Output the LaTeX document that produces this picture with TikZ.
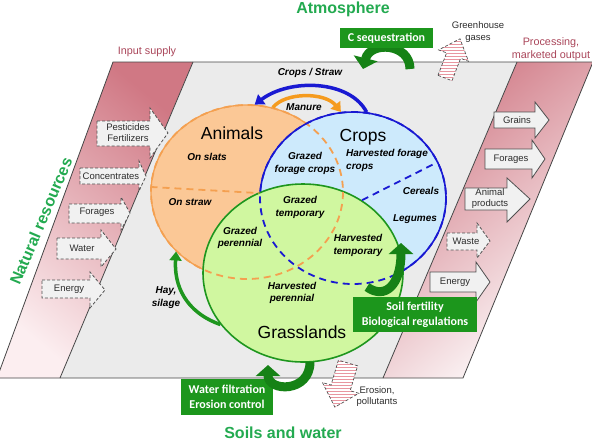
\documentclass[tikz,border=0pt]{standalone}
\usepackage{fontspec}
\setmainfont{Liberation Sans}
\newfontfamily\calib{Carlito}
\usetikzlibrary{arrows.meta,shapes.geometric}
\definecolor{bandDark}{RGB}{208,120,132}
\definecolor{bandLight}{RGB}{252,238,240}
\definecolor{bgGray}{RGB}{235,235,235}
\definecolor{outl}{RGB}{70,70,70}
\definecolor{arrFill}{RGB}{241,241,241}
\definecolor{arrEdge}{RGB}{80,80,80}
\definecolor{orangeFill}{RGB}{251,200,150}
\definecolor{orangeLine}{RGB}{244,160,80}
\definecolor{manureC}{RGB}{245,155,30}
\definecolor{blueFill}{RGB}{205,234,252}
\definecolor{blueLine}{RGB}{25,25,210}
\definecolor{greenFill}{RGB}{208,247,160}
\definecolor{greenLine}{RGB}{30,150,30}
\definecolor{boxGreen}{RGB}{28,150,28}
\definecolor{loopGreen}{RGB}{22,130,22}
\definecolor{titleGreen}{RGB}{35,170,80}
\definecolor{roseText}{RGB}{170,70,90}
\definecolor{hatch}{RGB}{232,150,160}
\definecolor{txtGray}{RGB}{45,45,45}
\begin{document}
\begin{tikzpicture}[x=1pt,y=-1pt,
  inarr/.style={draw=arrEdge,fill=arrFill,line width=0.8pt,dash pattern=on 3pt off 2pt},
  outarr/.style={draw=arrEdge,fill=arrFill,line width=0.8pt},
  smalll/.style={font=\fontsize{9.5}{11}\selectfont,text=txtGray,align=center,inner sep=0},
  lbl/.style={font=\fontsize{10}{12.5}\selectfont\bfseries\itshape,align=center,inner sep=0},
  bigl/.style={font=\fontsize{17.5}{20}\selectfont,inner sep=0},
  titl/.style={font=\fontsize{16}{18}\selectfont\bfseries,text=titleGreen,inner sep=0},
  rosel/.style={font=\fontsize{10.8}{13.5}\selectfont,text=roseText,align=center,inner sep=0},
  svc/.style={fill=boxGreen,text=white,font=\calib\bfseries\fontsize{12}{15}\selectfont,align=center,inner sep=0},
  loopa/.style={draw=loopGreen,line width=9pt,-{Triangle[width=24pt,length=11pt]}},
  flowa/.style={line width=3.5pt,-{Triangle[width=12pt,length=9pt]}},
  hatchedge/.style={draw=arrEdge,line width=0.7pt,dash pattern=on 3pt off 2pt},
  hatchline/.style={draw=hatch,line width=0.8pt}
]
\useasboundingbox (0,0) rectangle (592,440);
\fill[white] (0,0) rectangle (592,440);

% bands and background
\shade[top color=bandDark,bottom color=bandLight,shading angle=-40] (113,62) -- (193,62) -- (60,378) -- (-3,378) -- cycle;
\shade[top color=bandDark,bottom color=white,shading angle=40] (517,62) -- (593,62) -- (463,378) -- (383,378) -- cycle;
\fill[bgGray] (193,62) -- (517,62) -- (383,378) -- (60,378) -- cycle;
\draw[outl,line width=0.8pt] (113,62) -- (593,62) -- (463,378) -- (-3,378) -- cycle;
\draw[outl,line width=0.8pt] (193,62) -- (60,378);
\draw[outl,line width=0.8pt] (517,62) -- (383,378);

% input arrows
\draw[inarr] (97,121) -- (150,121) -- (150,108) -- (168,133) -- (150,158) -- (150,146) -- (97,146) -- cycle;
\node[smalll] (tpest) at (128,133) {Pesticides\\Fertilizers};
\draw[inarr] (80,168) -- (139,168) -- (139,161) -- (146,176) -- (139,191) -- (139,184) -- (80,184) -- cycle;
\node[smalll] (tconc) at (111,176) {Concentrates};
\draw[inarr] (69,204) -- (121,204) -- (121,197) -- (130,213) -- (121,230) -- (121,223) -- (69,223) -- cycle;
\node[smalll] (tforin) at (97,212) {Forages};
\draw[inarr] (57,238) -- (101,238) -- (101,230) -- (116,249) -- (101,267) -- (101,259) -- (57,259) -- cycle;
\node[smalll] (twater) at (82,248) {Water};
\draw[inarr] (42,280) -- (90,280) -- (90,272) -- (105,290) -- (90,308) -- (90,298) -- (42,298) -- cycle;
\node[smalll] (tenin) at (69,289) {Energy};

% output arrows
\draw[outarr] (494,112) -- (535,112) -- (535,102) -- (549,120) -- (535,138) -- (535,128) -- (494,128) -- cycle;
\node[smalll] (tgrain) at (517,120) {Grains};
\draw[outarr] (485,149) -- (532,149) -- (532,140) -- (545,159) -- (532,178) -- (532,169) -- (485,169) -- cycle;
\node[smalll] (tforout) at (511,159) {Forages};
\draw[outarr] (465,188) -- (507,188) -- (507,178) -- (530,199) -- (507,222) -- (507,210) -- (465,210) -- cycle;
\node[smalll] (tanim) at (490,199) {Animal\\products};
\draw[inarr] (447,233) -- (477,233) -- (477,223) -- (490,241) -- (477,258) -- (477,250) -- (447,250) -- cycle;
\node[smalll] (twaste) at (466,241) {Waste};
\draw[outarr] (430,272) -- (476,272) -- (476,262) -- (490,282) -- (476,302) -- (476,292) -- (430,292) -- cycle;
\node[smalll] (tenout) at (455,282) {Energy};

% circles
\node[ellipse,draw=orangeLine,fill=orangeFill,line width=1.3pt,minimum width=192,minimum height=174,inner sep=0] (animals) at (247,192) {};
\node[ellipse,draw=blueLine,fill=blueFill,line width=1.6pt,minimum width=186,minimum height=172,inner sep=0] (crops) at (353,198) {};
\node[ellipse,draw=greenLine,fill=greenFill,line width=1.6pt,minimum width=200,minimum height=178,inner sep=0] (grass) at (303,273) {};
\draw[orangeLine,line width=1.8pt,dash pattern=on 7pt off 5pt] (animals.center) ellipse [x radius=96,y radius=87];
\draw[blueLine,line width=1.8pt,dash pattern=on 7pt off 5pt] (crops.center) ellipse [x radius=93,y radius=86];
\draw[orangeLine,line width=1.8pt,dash pattern=on 7pt off 5pt] (animals.177) -- (crops.177);
\draw[blueLine,line width=1.8pt,dash pattern=on 7pt off 5pt] (grass.51) -- (crops.23);

% circle labels
\node[bigl] (tanimals) at (232,133) {Animals};
\node[bigl] (tcrops) at (363,137) {Crops};
\node[bigl] (tgrass) at (302,332) {Grasslands};
\node[lbl] (slats) at (207,157) {On slats};
\node[lbl] (straw) at (190,202) {On straw};
\node[lbl] (gfc) at (305,163.5) {Grazed\\forage crops};
\node[lbl,align=left,anchor=west] (hfc) at (346,160.5) {Harvested forage\\crops};
\node[lbl] (cereals) at (421,191) {Cereals};
\node[lbl] (legumes) at (415,219) {Legumes};
\node[lbl] (gtemp) at (300,207.5) {Grazed\\temporary};
\node[lbl] (gper) at (240,238) {Grazed\\perennial};
\node[lbl] (htemp) at (358,245.5) {Harvested\\temporary};
\node[lbl] (hper) at (292,293) {Harvested\\perennial};
\node[lbl] (hay) at (166,297.5) {Hay,\\silage};
\node[lbl] (cstraw) at (310,73) {Crops / Straw};
\node[lbl] (manure) at (304,107) {Manure};

% flows
\draw[flowa,blueLine] (crops.81) .. controls (350,80) and (290,78) .. (animals.85);
\draw[flowa,manureC] (animals.73) .. controls (285,92) and (325,92) .. (crops.98);
\draw[flowa,greenLine] (grass.212) .. controls (185,312) and (174,285) .. (animals.220);

% service loops and boxes
\coordinate (cseqT) at (410,69);
\coordinate (cseqH) at (363,69);
\draw[loopa] (cseqT) .. controls (410,43) and (370,41) .. (cseqH);
\node[svc,minimum width=93,minimum height=20] (cseq) at (386.5,38) {C sequestration};

\node[svc,minimum width=124,minimum height=35] (soil) at (415,314.5) {Soil fertility\\Biological regulations};
\coordinate (soilT) at (367,287);
\coordinate (soilH) at (401,243);
\draw[loopa] (soilT) .. controls (385,300) and (401,285) .. (soilH);

\node[svc,minimum width=92,minimum height=36] (water) at (227,397) {Water filtration\\Erosion control};
\coordinate (watT) at (310,362);
\coordinate (watH) at (268,365);
\draw[loopa] (watT) .. controls (310,393) and (268,392) .. (watH);

% hatched arrows
\begin{scope}
\clip (438.0,75.3) -- (446.6,52.9) -- (438.6,49.9) -- (460.0,38.8) -- (468.5,61.3) -- (460.6,58.3) -- (452.0,80.7) -- cycle;
\fill[white] (430,35) rectangle (475,85);
\foreach \yy in {38.5,41.5,...,84} \draw[hatchline] (430,\yy) -- (475,\yy);
\end{scope}
\draw[hatchedge] (438.0,75.3) -- (446.6,52.9) -- (438.6,49.9) -- (460.0,38.8) -- (468.5,61.3) -- (460.6,58.3) -- (452.0,80.7) -- cycle;
\begin{scope}
\clip (338.4,360.2) -- (331.0,385.1) -- (322.4,382.5) -- (334.9,407.1) -- (358.8,393.3) -- (350.2,390.7) -- (357.6,365.8) -- cycle;
\fill[white] (318,355) rectangle (362,410);
\foreach \yy in {358.5,361.5,...,410} \draw[hatchline] (318,\yy) -- (362,\yy);
\end{scope}
\draw[hatchedge] (338.4,360.2) -- (331.0,385.1) -- (322.4,382.5) -- (334.9,407.1) -- (358.8,393.3) -- (350.2,390.7) -- (357.6,365.8) -- cycle;
\node[smalll,font=\fontsize{9.5}{12}\selectfont] (ghg) at (478,32) {Greenhouse\\gases};
\node[smalll,font=\fontsize{9.5}{11.5}\selectfont] (eros) at (377,396.5) {Erosion,\\pollutants};

% titles
\node[titl,anchor=base] (atmo) at (343,13.5) {Atmosphere};
\node[titl,anchor=base] (soils) at (283,438) {Soils and water};
\node[titl,rotate=67] (natres) at (41,221) {Natural resources};
\node[rosel] (input) at (147,52) {Input supply};
\node[rosel] (proc) at (551,49) {Processing,\\marketed output};
\end{tikzpicture}
\end{document}
